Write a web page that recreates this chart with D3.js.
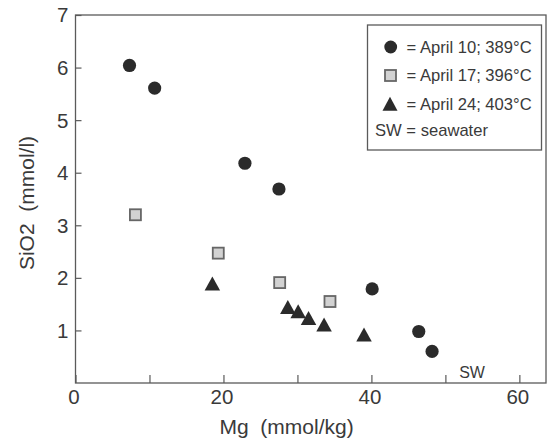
<!DOCTYPE html>
<html>
<head>
<meta charset="utf-8">
<script src="https://cdn.jsdelivr.net/npm/d3@7"></script>
<style>
  body { margin: 0; background: #fff; }
  text { font-family: "Liberation Sans", Arial, Helvetica, sans-serif; fill: #3a3a3a; }
</style>
</head>
<body>
<div id="chart"></div>
<script>
// April 10; 389°C  (Mg mmol/kg, SiO2 mmol/l)
var apr10Mg = [7.3, 10.7, 22.9, 27.5, 40.1, 46.4, 48.2];
var apr10Si = [6.04, 5.61, 4.18, 3.69, 1.79, 0.98, 0.60];
// April 17; 396°C
var apr17Mg = [8.1, 19.3, 27.6, 34.4];
var apr17Si = [3.20, 2.47, 1.91, 1.55];
// April 24; 403°C
var apr24Mg = [18.5, 28.7, 30.1, 31.5, 33.6, 39.0];
var apr24Si = [1.85, 1.40, 1.32, 1.19, 1.07, 0.88];

var xTicks = [0, 10, 20, 30, 40, 50, 60];
var xLabels = [0, 20, 40, 60];
var yTicks = [1, 2, 3, 4, 5, 6, 7];
var yLabels = [0, 1, 2, 3, 4, 5, 6, 7];

var legendLabels = ["= April 10; 389°C", "= April 17; 396°C", "= April 24; 403°C"];
var swLabel = { mg: 53.6, si: 0.1, text: "SW" };

var W = 552, H = 441;
var x = d3.scaleLinear().domain([0, 63.6]).range([75.5, 546]);
var y = d3.scaleLinear().domain([0, 7]).range([383, 15]);

var svg = d3.select("#chart").append("svg")
    .attr("width", W)
    .attr("height", H);

var axisCol = "#5a5a5a";
var markCol = "#2b2b2b";

// frame
svg.append("rect")
    .attr("x", x(0)).attr("y", y(7))
    .attr("width", x(63.6) - x(0)).attr("height", y(0) - y(7))
    .attr("fill", "none").attr("stroke", axisCol).attr("stroke-width", 1.3);

// bottom axis, ticks inward
var xAxis = d3.axisBottom(x).tickValues(xTicks).tickSizeInner(-8).tickSizeOuter(0).tickFormat("");
var gx = svg.append("g").attr("transform", "translate(0," + y(0) + ")").call(xAxis);
gx.select(".domain").remove();
gx.selectAll("line").attr("stroke", axisCol).attr("stroke-width", 1.2);

svg.selectAll(".xlab").data(xLabels).enter().append("text")
    .attr("class", "xlab")
    .attr("x", function(d){ return x(d) - 1.5; })
    .attr("y", y(0) + 21)
    .attr("text-anchor", "middle")
    .attr("font-size", 20.5)
    .text(function(d){ return d; });

// left axis, ticks inward
var yAxis = d3.axisLeft(y).tickValues(yTicks).tickSizeInner(-6).tickSizeOuter(0).tickFormat("");
var gy = svg.append("g").attr("transform", "translate(" + x(0) + ",0)").call(yAxis);
gy.select(".domain").remove();
gy.selectAll("line").attr("stroke", axisCol).attr("stroke-width", 1.2);

svg.selectAll(".ylab").data(yLabels.filter(function(d){ return d > 0; })).enter().append("text")
    .attr("class", "ylab")
    .attr("x", 68.5)
    .attr("y", function(d){ return y(d); })
    .attr("dy", "0.36em")
    .attr("text-anchor", "end")
    .attr("font-size", 20.5)
    .text(function(d){ return d; });

// axis titles
svg.append("text")
    .attr("x", 219.5).attr("y", 433.5)
    .attr("font-size", 21)
    .attr("xml:space", "preserve")
    .style("white-space", "pre")
    .text("Mg  (mmol/kg)");

svg.append("text")
    .attr("transform", "translate(33.5,203) rotate(-90)")
    .attr("text-anchor", "middle")
    .attr("font-size", 21)
    .style("white-space", "pre")
    .text("SiO2  (mmol/l)");

// marker helpers
function triPath(cx, cy, w, h) {
  return "M" + cx + "," + (cy - 2 * h / 3) +
         "L" + (cx + w / 2) + "," + (cy + h / 3) +
         "L" + (cx - w / 2) + "," + (cy + h / 3) + "Z";
}
var sq = 11;

// April 10 circles
svg.selectAll(".c10").data(apr10Mg).enter().append("circle")
    .attr("class", "c10")
    .attr("cx", function(d){ return x(d); })
    .attr("cy", function(d, i){ return y(apr10Si[i]); })
    .attr("r", 6.6)
    .attr("fill", markCol);

// April 17 squares
svg.selectAll(".s17").data(apr17Mg).enter().append("rect")
    .attr("class", "s17")
    .attr("x", function(d){ return x(d) - sq / 2; })
    .attr("y", function(d, i){ return y(apr17Si[i]) - sq / 2; })
    .attr("width", sq).attr("height", sq)
    .attr("fill", "#d2d2d2")
    .attr("stroke", "#666")
    .attr("stroke-width", 1.8);

// April 24 triangles
svg.selectAll(".t24").data(apr24Mg).enter().append("path")
    .attr("class", "t24")
    .attr("d", function(d, i){ return triPath(x(d), y(apr24Si[i]), 15.5, 14); })
    .attr("fill", markCol);

// seawater label
svg.append("text")
    .attr("x", x(swLabel.mg)).attr("y", y(swLabel.si))
    .attr("text-anchor", "middle")
    .attr("font-size", 16)
    .text(swLabel.text);

// legend
var lg = svg.append("g");
lg.append("rect")
    .attr("x", 367.5).attr("y", 25)
    .attr("width", 174).attr("height", 125)
    .attr("fill", "#fff").attr("stroke", axisCol).attr("stroke-width", 1.3);

var rowY = [47, 75.5, 104];
lg.append("circle").attr("cx", 390.7).attr("cy", rowY[0]).attr("r", 6.4).attr("fill", markCol);
lg.append("rect")
    .attr("x", 390.5 - sq / 2).attr("y", rowY[1] - sq / 2)
    .attr("width", sq).attr("height", sq)
    .attr("fill", "#d2d2d2").attr("stroke", "#666").attr("stroke-width", 1.8);
lg.append("path").attr("d", triPath(390, rowY[2] + 2, 15, 14)).attr("fill", markCol);

lg.selectAll(".lt").data(legendLabels).enter().append("text")
    .attr("class", "lt")
    .attr("x", 406.5)
    .attr("y", function(d, i){ return rowY[i]; })
    .attr("dy", "0.36em")
    .attr("font-size", 16.6)
    .text(function(d){ return d; });

lg.append("text")
    .attr("x", 375).attr("y", 130)
    .attr("dy", "0.36em")
    .attr("font-size", 16.6)
    .text("SW = seawater");
</script>
</body>
</html>
